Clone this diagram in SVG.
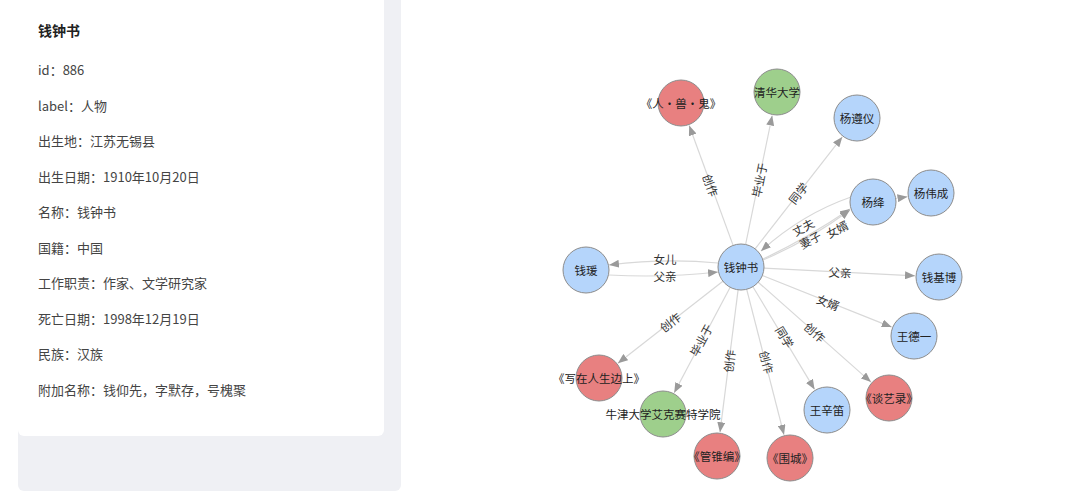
<svg xmlns="http://www.w3.org/2000/svg" width="1080" height="494" viewBox="0 0 1080 494">
<defs>
<style>
.panel{fill:#eff0f4}
.card{fill:#ffffff}
.title{font-family:"Noto Sans CJK SC","Noto Sans",sans-serif;font-size:14px;font-weight:bold;fill:#222}
.attr{font-family:"Noto Sans CJK SC","Noto Sans",sans-serif;font-size:13px;fill:#444}
.edge{fill:none;stroke:#d8d8d8;stroke-width:1.2}
.elabel{font-family:"Noto Sans CJK SC","Noto Sans",sans-serif;font-size:11.5px;fill:#333;text-anchor:middle;dominant-baseline:central}
.nlabel{font-family:"Noto Sans CJK SC","Noto Sans",sans-serif;font-size:11.5px;fill:#222;text-anchor:middle;dominant-baseline:central}
.person{fill:#b5d5fb;stroke:#8c8c8c;stroke-width:1}
.work{fill:#e88080;stroke:#8c8c8c;stroke-width:1}
.school{fill:#9ecf8c;stroke:#8c8c8c;stroke-width:1}
</style>
<marker id="arr" viewBox="0 0 10 8" refX="10" refY="4" markerWidth="10" markerHeight="8" markerUnits="userSpaceOnUse" orient="auto">
<path d="M0,0 L10,4 L0,8 z" fill="#9a9a9a"/>
</marker>
</defs>
<rect width="1080" height="494" fill="#ffffff"/>
<g id="info-panel">
<rect class="panel" x="18" y="-10" width="383" height="501" rx="6"/>
<rect class="card" x="18" y="-10" width="366" height="446" rx="6"/>
<text class="title" x="38" y="36">钱钟书</text>
<text class="attr" x="38" y="75">id：886</text>
<text class="attr" x="38" y="110.5">label：人物</text>
<text class="attr" x="38" y="146">出生地：江苏无锡县</text>
<text class="attr" x="38" y="181.5">出生日期：1910年10月20日</text>
<text class="attr" x="38" y="217">名称：钱钟书</text>
<text class="attr" x="38" y="252.5">国籍：中国</text>
<text class="attr" x="38" y="288">工作职责：作家、文学研究家</text>
<text class="attr" x="38" y="323.5">死亡日期：1998年12月19日</text>
<text class="attr" x="38" y="359">民族：汉族</text>
<text class="attr" x="38" y="394.5">附加名称：钱仰先，字默存，号槐聚</text>
</g>
<g id="connectors">
<path class="edge" marker-end="url(#arr)" d="M733.1,245.4 L689.2,125.5"/>
<path class="edge" marker-end="url(#arr)" d="M745.6,244.5 L772.2,115.5"/>
<path class="edge" marker-end="url(#arr)" d="M755.1,248.8 L842.3,136.9"/>
<path class="edge" marker-end="url(#arr)" d="M764,268.2 L915,275.8"/>
<path class="edge" marker-end="url(#arr)" d="M762.4,275.5 L891.7,327.1"/>
<path class="edge" marker-end="url(#arr)" d="M758.2,282.2 L871,382.1"/>
<path class="edge" marker-end="url(#arr)" d="M752.9,286.7 L814.6,389.4"/>
<path class="edge" marker-end="url(#arr)" d="M746.7,289.3 L784,434.8"/>
<path class="edge" marker-end="url(#arr)" d="M738.1,289.8 L720,432.2"/>
<path class="edge" marker-end="url(#arr)" d="M730.2,287.3 L674.2,392.8"/>
<path class="edge" marker-end="url(#arr)" d="M722.9,281.2 L617.9,363.2"/>
<path class="edge" marker-end="url(#arr)" d="M718,263 Q665,258 609,265"/>
<path class="edge" marker-end="url(#arr)" d="M609,275 Q665,278 718,272"/>
<path class="edge" marker-end="url(#arr)" d="M851,197 Q802,214 761,251"/>
<path class="edge" marker-end="url(#arr)" d="M763,259 Q806,239 850,209"/>
<path class="edge" marker-end="url(#arr)" d="M763,260 Q808,241 850,210"/>
<path class="edge" marker-end="url(#arr)" d="M895.7,198.5 L907.5,196.7"/>
<text class="elabel" transform="translate(711,185) rotate(70)">创作</text>
<text class="elabel" transform="translate(759,180) rotate(-78.4)">毕业于</text>
<text class="elabel" transform="translate(798,193) rotate(-52)">同学</text>
<text class="elabel" x="665" y="259">女儿</text>
<text class="elabel" x="665" y="275.5">父亲</text>
<text class="elabel" transform="translate(803,227) rotate(-28)">丈夫</text>
<text class="elabel" transform="translate(810,239.5) rotate(-28)">妻子</text>
<text class="elabel" transform="translate(837,229) rotate(-28)">女婿</text>
<text class="elabel" transform="translate(840,272) rotate(2.9)">父亲</text>
<text class="elabel" transform="translate(828,302) rotate(21.7)">女婿</text>
<text class="elabel" transform="translate(815,332) rotate(41.5)">创作</text>
<text class="elabel" transform="translate(785,337) rotate(59)">同学</text>
<text class="elabel" transform="translate(767,362) rotate(75.6)">创作</text>
<text class="elabel" transform="translate(729,361) rotate(-82.8)">创作</text>
<text class="elabel" transform="translate(701,340) rotate(-62.1)">毕业于</text>
<text class="elabel" transform="translate(670,322) rotate(-38)">创作</text>
</g>
<g id="node-qianzhongshu"><circle class="person" cx="741" cy="267" r="23"/><text class="nlabel" x="741" y="267">钱钟书</text></g>
<g id="node-qianyuan"><circle class="person" cx="586" cy="270" r="23"/><text class="nlabel" x="586" y="270">钱瑗</text></g>
<g id="node-renshougui"><circle class="work" cx="681" cy="103" r="23"/><text class="nlabel" x="681" y="103">《人·兽·鬼》</text></g>
<g id="node-qinghua"><circle class="school" cx="777" cy="92" r="23"/><text class="nlabel" x="777" y="92">清华大学</text></g>
<g id="node-yangzunyi"><circle class="person" cx="857" cy="118" r="23"/><text class="nlabel" x="857" y="118">杨遵仪</text></g>
<g id="node-yangjiang"><circle class="person" cx="873" cy="202" r="23"/><text class="nlabel" x="873" y="202">杨绛</text></g>
<g id="node-yangweicheng"><circle class="person" cx="931" cy="193" r="23"/><text class="nlabel" x="931" y="193">杨伟成</text></g>
<g id="node-qianjibo"><circle class="person" cx="939" cy="277" r="23"/><text class="nlabel" x="939" y="277">钱基博</text></g>
<g id="node-wangdeyi"><circle class="person" cx="914" cy="336" r="23"/><text class="nlabel" x="914" y="336">王德一</text></g>
<g id="node-tanyilu"><circle class="work" cx="889" cy="398" r="23"/><text class="nlabel" x="889" y="398">《谈艺录》</text></g>
<g id="node-wangxindi"><circle class="person" cx="827" cy="410" r="23"/><text class="nlabel" x="827" y="410">王辛笛</text></g>
<g id="node-weicheng"><circle class="work" cx="790" cy="458" r="23"/><text class="nlabel" x="790" y="458">《围城》</text></g>
<g id="node-guanzhuibian"><circle class="work" cx="717" cy="456" r="23"/><text class="nlabel" x="717" y="456">《管锥编》</text></g>
<g id="node-oxford"><circle class="school" cx="663" cy="414" r="23"/><text class="nlabel" x="663" y="414">牛津大学艾克赛特学院</text></g>
<g id="node-xiezai"><circle class="work" cx="599" cy="378" r="23"/><text class="nlabel" x="599" y="378">《写在人生边上》</text></g>
</svg>
